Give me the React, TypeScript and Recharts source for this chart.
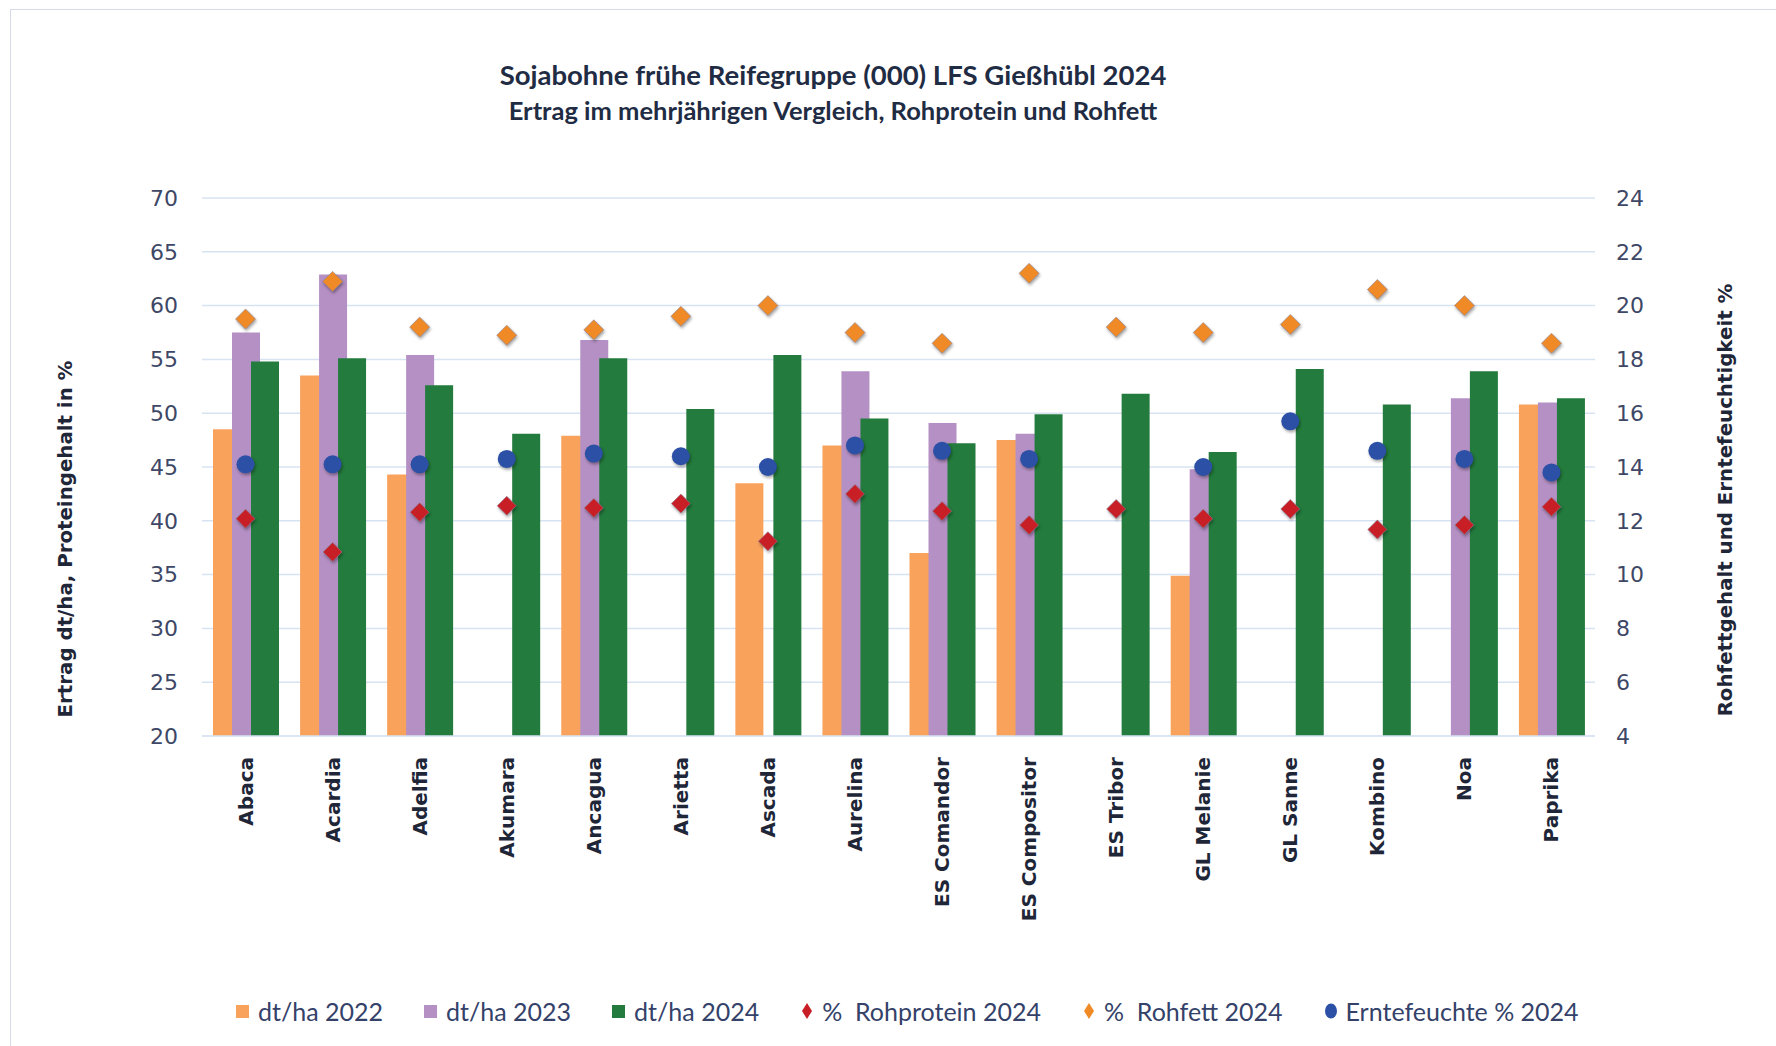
import { Bar, CartesianGrid, ComposedChart, Line, XAxis, YAxis } from "recharts";

const sorten = [
  "Abaca", "Acardia", "Adelfia", "Akumara", "Ancagua", "Arietta", "Ascada", "Aurelina",
  "ES Comandor", "ES Compositor", "ES Tribor", "GL Melanie", "GL Sanne", "Kombino", "Noa", "Paprika",
];
const ertrag2022 = [48.5, 53.5, 44.3, null, 47.9, null, 43.5, 47.0, 37.0, 47.5, null, 34.9, null, null, null, 50.8];
const ertrag2023 = [57.5, 62.9, 55.4, null, 56.8, null, null, 53.9, 49.1, 48.1, null, 44.8, null, null, 51.4, 51.0];
const ertrag2024 = [54.8, 55.1, 52.6, 48.1, 55.1, 50.4, 55.4, 49.5, 47.2, 49.9, 51.8, 46.4, 54.1, 50.8, 53.9, 51.4];
const rohprotein2024 = [40.2, 37.1, 40.8, 41.4, 41.2, 41.6, 38.1, 42.5, 40.9, 39.6, 41.1, 40.2, 41.1, 39.2, 39.6, 41.3];
const rohfett2024 = [19.5, 20.9, 19.2, 18.9, 19.1, 19.6, 20.0, 19.0, 18.6, 21.2, 19.2, 19.0, 19.3, 20.6, 20.0, 18.6];
const erntefeuchte2024 = [14.1, 14.1, 14.1, 14.3, 14.5, 14.4, 14.0, 14.8, 14.6, 14.3, null, 14.0, 15.7, 14.6, 14.3, 13.8];

const leftTicks = [20, 25, 30, 35, 40, 45, 50, 55, 60, 65, 70];
const rightTicks = [4, 6, 8, 10, 12, 14, 16, 18, 20, 22, 24];

const colors = {
  y2022: "#F8A25C",
  y2023: "#B590C4",
  y2024: "#237B3D",
  protein: "#C81E26",
  fett: "#F08A26",
  feuchte: "#2B50A6",
  grid: "#D8E3F2",
  tick: "#3E4866",
  label: "#1E2638",
};

const data = sorten.map((name, i) => ({
  name,
  e2022: ertrag2022[i],
  e2023: ertrag2023[i],
  e2024: ertrag2024[i],
  protein: rohprotein2024[i],
  fett: rohfett2024[i],
  feuchte: erntefeuchte2024[i],
}));

const legendItems = [
  { label: "dt/ha 2022", color: colors.y2022, shape: "square" },
  { label: "dt/ha 2023", color: colors.y2023, shape: "square" },
  { label: "dt/ha 2024", color: colors.y2024, shape: "square" },
  { label: "%  Rohprotein 2024", color: colors.protein, shape: "diamond" },
  { label: "%  Rohfett 2024", color: colors.fett, shape: "diamond" },
  { label: "Erntefeuchte % 2024", color: colors.feuchte, shape: "circle" },
];

const shadow = { filter: "drop-shadow(1px 2px 1.5px rgba(0,0,0,0.35))" };

const diamondDot = (fill: string, r: number) => (props: any) => {
  const { cx, cy, index } = props;
  if (cx == null || cy == null || Number.isNaN(cy)) return <g key={index} />;
  return (
    <path
      key={index}
      d={`M${cx},${cy - r}L${cx + r},${cy}L${cx},${cy + r}L${cx - r},${cy}Z`}
      fill={fill}
      stroke="#8c8296"
      strokeWidth={0.6}
      style={shadow}
    />
  );
};

const circleDot = (fill: string, r: number) => (props: any) => {
  const { cx, cy, index } = props;
  if (cx == null || cy == null || Number.isNaN(cy)) return <g key={index} />;
  return <circle key={index} cx={cx} cy={cy} r={r} fill={fill} style={shadow} />;
};

const SortenTick = ({ x, y, payload }: any) => (
  <text
    x={x}
    y={y}
    transform={`rotate(-90, ${x}, ${y})`}
    textAnchor="end"
    dominantBaseline="central"
    fontFamily="DejaVu Sans"
    fontWeight="bold"
    fontSize={20}
    fill={colors.label}
  >
    {payload.value}
  </text>
);

const LegendMarker = ({ shape, color }: { shape: string; color: string }) => (
  <svg width={16} height={18} style={{ flexShrink: 0 }}>
    {shape === "square" && <rect x={1} y={3} width={13} height={13} fill={color} />}
    {shape === "diamond" && <path d="M8,1L13,9L8,17L3,9Z" fill={color} />}
    {shape === "circle" && <ellipse cx={8} cy={9} rx={6} ry={7.5} fill={color} />}
  </svg>
);

const tickStyle = { fontFamily: "DejaVu Sans", fontSize: 22, fill: colors.tick };

export default function App() {
  return (
    <div
      style={{
        position: "absolute",
        left: 0,
        top: 0,
        width: 1776,
        height: 1046,
        overflow: "hidden",
        background: "#fff",
      }}
    >
      <div
        style={{
          position: "absolute",
          left: 10,
          top: 9,
          right: -2,
          bottom: -2,
          borderLeft: "1.5px solid #D5DCE8",
          borderTop: "1.5px solid #D5DCE8",
        }}
      />
      <ComposedChart
        width={1776}
        height={1046}
        data={data}
        margin={{ top: 198, right: 81, bottom: 110, left: 0 }}
        barSize={28}
        barGap={-9}
      >
        <CartesianGrid yAxisId="left" vertical={false} stroke={colors.grid} strokeWidth={1.5} />
        <XAxis
          dataKey="name"
          interval={0}
          height={200}
          tickLine={false}
          tickSize={0}
          tickMargin={21}
          axisLine={{ stroke: colors.grid, strokeWidth: 1.5 }}
          tick={<SortenTick />}
        />
        <YAxis
          yAxisId="left"
          width={202}
          domain={[20, 70]}
          ticks={leftTicks}
          axisLine={false}
          tickLine={false}
          tickSize={0}
          tickMargin={24}
          tick={tickStyle}
        />
        <YAxis
          yAxisId="right"
          orientation="right"
          width={100}
          domain={[4, 24]}
          ticks={rightTicks}
          axisLine={false}
          tickLine={false}
          tickSize={0}
          tickMargin={21}
          tick={tickStyle}
        />
        <Bar yAxisId="left" dataKey="e2022" fill={colors.y2022} isAnimationActive={false} />
        <Bar yAxisId="left" dataKey="e2023" fill={colors.y2023} isAnimationActive={false} />
        <Bar yAxisId="left" dataKey="e2024" fill={colors.y2024} isAnimationActive={false} />
        <Line
          yAxisId="left"
          dataKey="protein"
          stroke="none"
          dot={diamondDot(colors.protein, 9.5)}
          activeDot={false}
          isAnimationActive={false}
        />
        <Line
          yAxisId="right"
          dataKey="fett"
          stroke="none"
          dot={diamondDot(colors.fett, 10)}
          activeDot={false}
          isAnimationActive={false}
        />
        <Line
          yAxisId="right"
          dataKey="feuchte"
          stroke="none"
          dot={circleDot(colors.feuchte, 9)}
          activeDot={false}
          isAnimationActive={false}
        />
      </ComposedChart>

      <svg
        width={1776}
        height={1046}
        style={{ position: "absolute", left: 0, top: 0, pointerEvents: "none" }}
      >
        <text
          x={833}
          y={74}
          textAnchor="middle"
          dominantBaseline="central"
          fontFamily="Lato"
          fontWeight="bold"
          fontSize={27.5}
          fill="#1F2C44"
        >
          Sojabohne frühe Reifegruppe (000) LFS Gießhübl 2024
        </text>
        <text
          x={833}
          y={110}
          textAnchor="middle"
          dominantBaseline="central"
          fontFamily="Lato"
          fontWeight="bold"
          fontSize={25.5}
          fill="#1F2C44"
        >
          Ertrag im mehrjährigen Vergleich,  Rohprotein und Rohfett
        </text>
        <text
          x={65}
          y={539}
          transform="rotate(-90, 65, 539)"
          textAnchor="middle"
          dominantBaseline="central"
          fontFamily="DejaVu Sans"
          fontWeight="bold"
          fontSize={19.8}
          fill={colors.label}
        >
          Ertrag dt/ha, Proteingehalt in %
        </text>
        <text
          x={1725}
          y={500}
          transform="rotate(-90, 1725, 500)"
          textAnchor="middle"
          dominantBaseline="central"
          fontFamily="DejaVu Sans"
          fontWeight="bold"
          fontSize={19.8}
          fill={colors.label}
        >
          Rohfettgehalt und Erntefeuchtigkeit %
        </text>
      </svg>

      <div
        style={{
          position: "absolute",
          left: 235,
          top: 996,
          display: "flex",
          alignItems: "center",
          gap: 40,
          fontFamily: "Lato",
          fontSize: 25,
          color: "#34426A",
          whiteSpace: "pre",
        }}
      >
        {legendItems.map((item) => (
          <div key={item.label} style={{ display: "flex", alignItems: "center", gap: 7 }}>
            <LegendMarker shape={item.shape} color={item.color} />
            <span>{item.label}</span>
          </div>
        ))}
      </div>
    </div>
  );
}
